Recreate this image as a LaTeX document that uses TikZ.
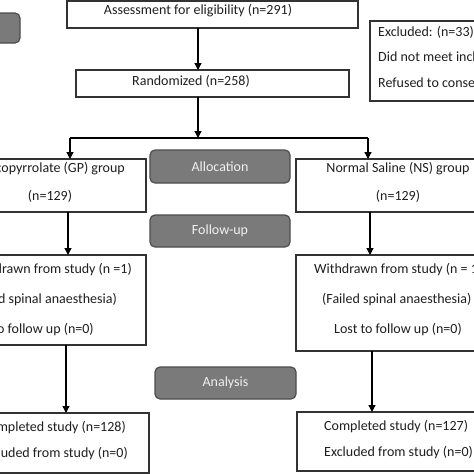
\documentclass[tikz,border=0pt]{standalone}
\usepackage{fontspec}
\setmainfont{Carlito}
\usetikzlibrary{arrows.meta}
\begin{document}
\begin{tikzpicture}[x=1pt,y=-1pt,
  box/.style={draw=black!80,line width=1.4pt,fill=white},
  stage/.style={draw=black!70,line width=1.2pt,fill=black!52,rounded corners=5pt},
  txt/.style={inner sep=0pt,text=black!88,font=\fontsize{14}{16}\selectfont},
  stxt/.style={inner sep=0pt,text=white!94!black,font=\fontsize{14}{16}\selectfont},
  conn/.style={draw=black,line width=1.3pt},
  arr/.style={conn,-{Triangle[length=7pt,width=7pt]}}]
\useasboundingbox (0,0) rectangle (474,474);
\clip (0,0) rectangle (474,474);
% boxes
\draw[box] (67,0.8) rectangle (358,28) coordinate (topBR);
\coordinate (topB) at (198,28);
\node[txt] (ttop) at (198,11) {Assessment for eligibility (n=291)};
\draw[stage] (-20,13) rectangle (20,43);
\draw[box] (76,70) rectangle (349,97);
\coordinate (randT) at (198,70);
\coordinate (randB) at (198,97);
\node[txt] (trand) at (191,81) {Randomized (n=258)};
\draw[box] (370,21) rectangle (500,101);
\node[txt,anchor=west] (tex1) at (378,32) {Excluded: (n=33)};
\node[txt,anchor=west] (tex2) at (378,57) {Did not meet inclusion criteria};
\node[txt,anchor=west] (tex3) at (378,83) {Refused to consent};
% stage labels
\draw[stage] (150,150) rectangle (290,183);
\node[stxt] (talloc) at (220,166.5) {Allocation};
\draw[stage] (150,215) rectangle (290,247);
\node[stxt] (tfollow) at (220,231) {Follow-up};
\draw[stage] (155,367) rectangle (296,399);
\node[stxt] (tanal) at (225.5,383) {Analysis};
% group boxes
\draw[box] (-50,159) rectangle (146,212);
\node[txt,anchor=east] (tgp1) at (125,169) {Glycopyrrolate (GP) group};
\node[txt] (tgp2) at (50,196) {(n=129)};
\draw[box] (296,159) rectangle (500,212);
\node[txt] (tns1) at (398,169) {Normal Saline (NS) group};
\node[txt] (tns2) at (398,196) {(n=129)};
% withdrawn boxes
\draw[box] (-50,255) rectangle (146,345);
\node[txt,anchor=east] (tgw1) at (132,270) {Withdrawn from study (n =1)};
\node[txt,anchor=east] (tgw2) at (117,300) {(Failed spinal anaesthesia)};
\node[txt,anchor=east] (tgw3) at (94,330) {Lost to follow up (n=0)};
\draw[box] (296,255) rectangle (500,351);
\node[txt,anchor=west] (tnw1) at (314,270) {Withdrawn from study (n = 1)};
\node[txt,anchor=west] (tnw2) at (322,300) {(Failed spinal anaesthesia)};
\node[txt] (tnw3) at (398,330) {Lost to follow up (n=0)};
% completed boxes
\draw[box] (-50,413) rectangle (149,473);
\node[txt,anchor=east] (tgc1) at (126,428) {Completed study (n=128)};
\node[txt,anchor=east] (tgc2) at (128,454) {Excluded from study (n=0)};
\draw[box] (297,412) rectangle (500,471);
\node[txt,anchor=west] (tnc1) at (324,427) {Completed study (n=127)};
\node[txt,anchor=west] (tnc2) at (324,453) {Excluded from study (n=0)};
% connectors
\coordinate (split) at (198,138);
\coordinate (splitL) at (70,138);
\coordinate (splitR) at (368,138);
\coordinate (gpT) at (70,159);
\coordinate (nsT) at (368,159);
\draw[arr] (topB) -- (randT);
\draw[arr] (randB) -- (split);
\draw[conn] (splitL) -- (splitR);
\draw[arr] (splitL) -- (gpT);
\draw[arr] (splitR) -- (nsT);
\coordinate (gpB) at (68,212);
\coordinate (gwT) at (68,255);
\coordinate (nsB) at (370,212);
\coordinate (nwT) at (370,255);
\draw[arr] (gpB) -- (gwT);
\draw[arr] (nsB) -- (nwT);
\coordinate (gwB) at (66,345);
\coordinate (gcT) at (66,413);
\coordinate (nwB) at (372,351);
\coordinate (ncT) at (372,412);
\draw[arr] (gwB) -- (gcT);
\draw[arr] (nwB) -- (ncT);
\end{tikzpicture}
\end{document}
